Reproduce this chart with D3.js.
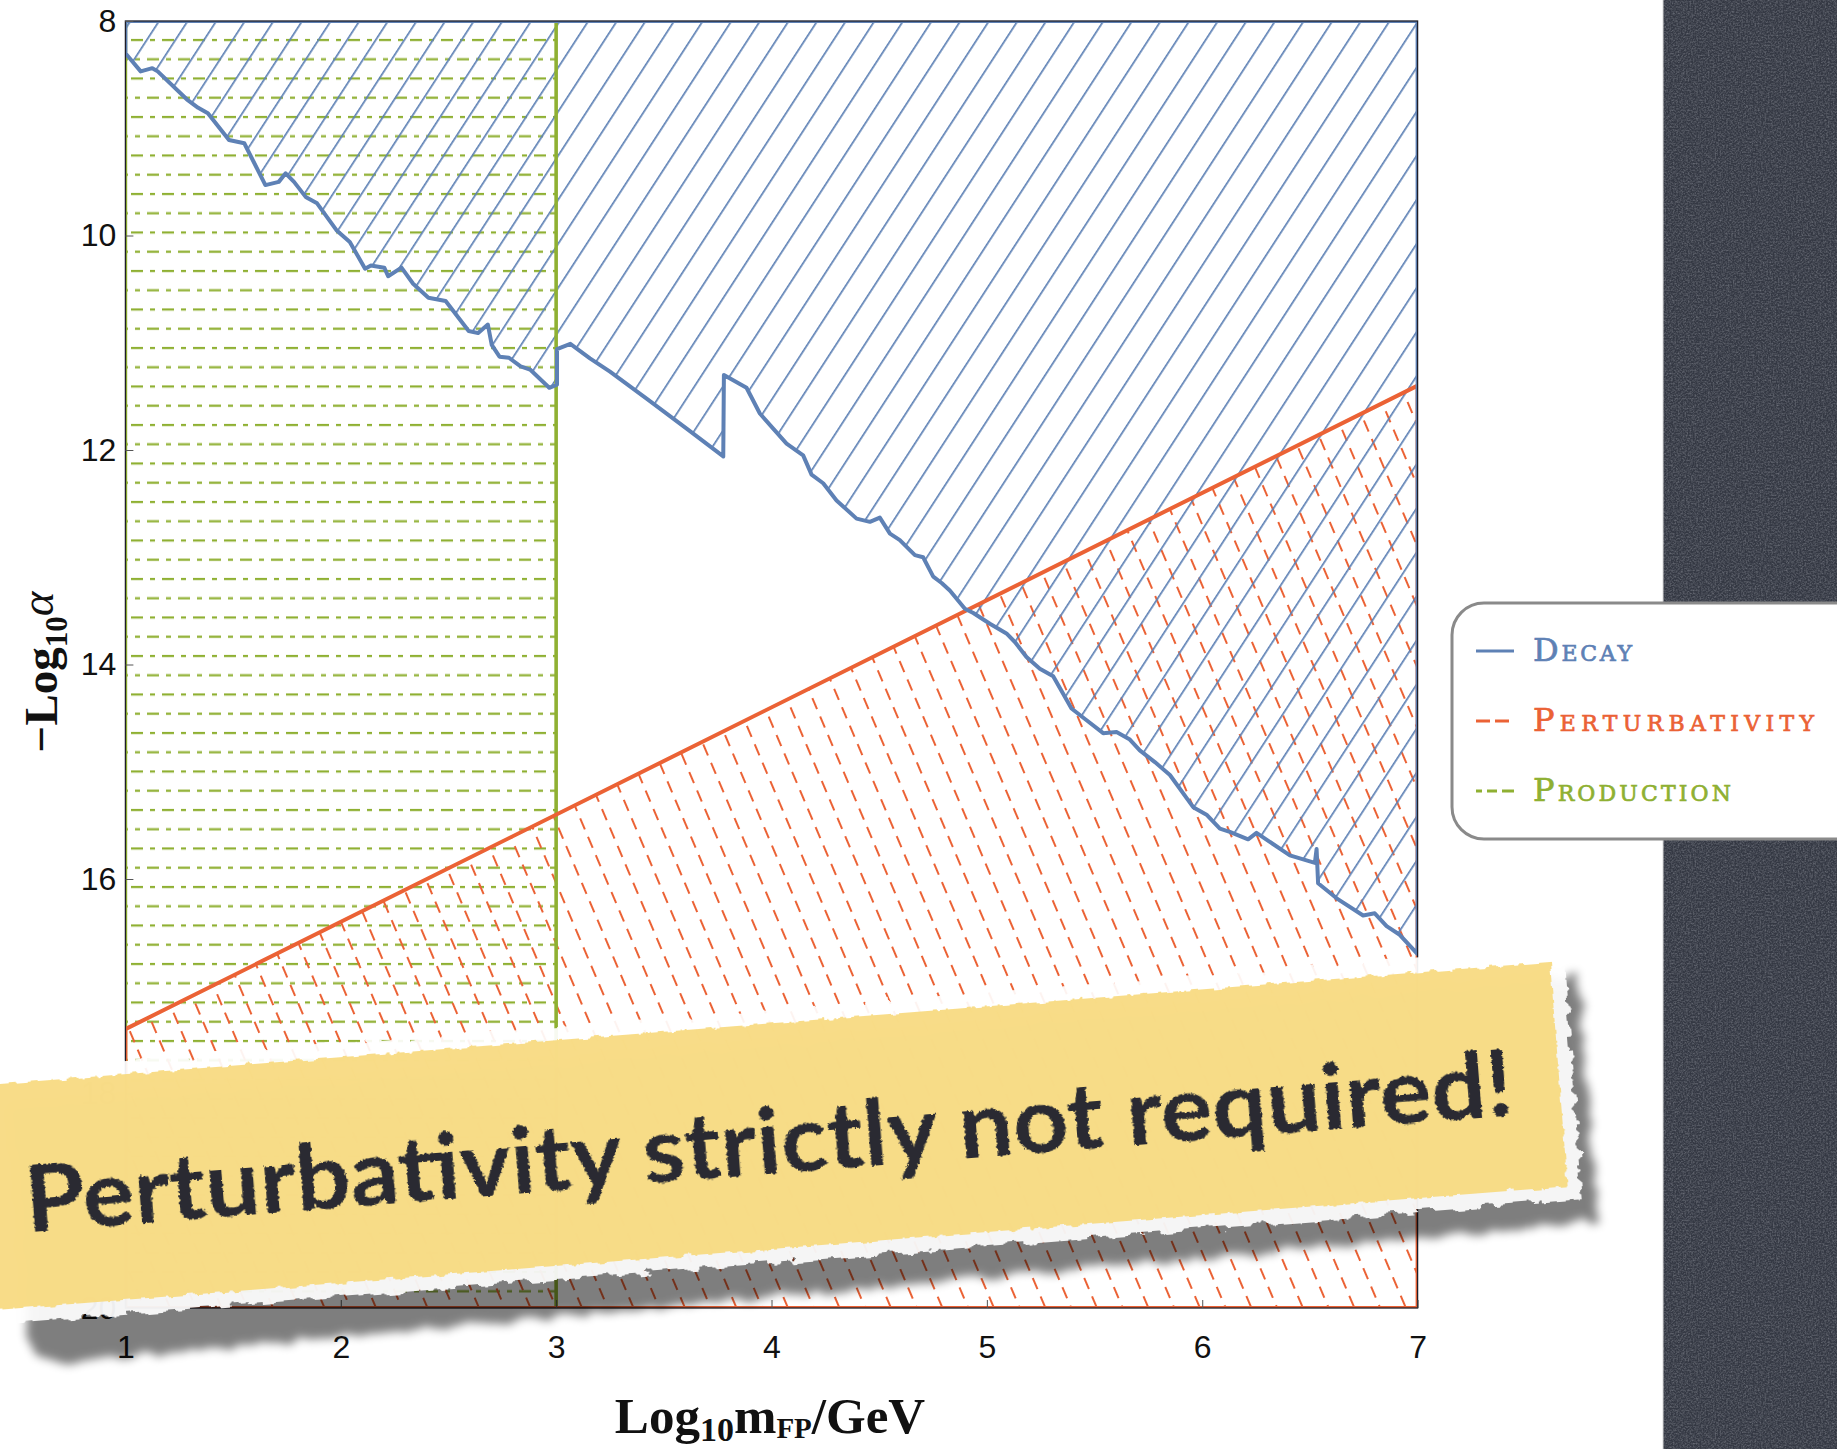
<!DOCTYPE html>
<html>
<head>
<meta charset="utf-8">
<script src="https://cdn.jsdelivr.net/npm/d3@7"></script>
<style>
html, body { margin: 0; padding: 0; background: #fff; }
svg { display: block; }
</style>
</head>
<body>
<svg id="chart" width="1837" height="1449"></svg>
<script>
// ---- data ----
var xTicks = [1, 2, 3, 4, 5, 6, 7];
var yTicks = [8, 10, 12, 14, 16, 18, 20];

// decay bound: -log10(alpha) vs log10(m/GeV)
var decayX = [1.000, 1.071, 1.125, 1.150, 1.285, 1.338, 1.383, 1.481, 1.552, 1.650,
              1.712, 1.744, 1.783, 1.837, 1.890, 1.980, 2.042, 2.113, 2.140, 2.202,
              2.220, 2.282, 2.336, 2.407, 2.487, 2.594, 2.638, 2.683, 2.701, 2.737,
              2.781, 2.835, 2.879, 2.968, 3.004, 3.004, 3.066, 3.157, 3.250, 3.420,
              3.606, 3.776, 3.779, 3.884, 3.946, 4.008, 4.070, 4.147, 4.186, 4.240,
              4.302, 4.395, 4.457, 4.503, 4.550, 4.596, 4.666, 4.704, 4.751, 4.790,
              4.828, 4.898, 4.937, 5.014, 5.091, 5.130, 5.184, 5.246, 5.308, 5.339,
              5.393, 5.463, 5.540, 5.602, 5.664, 5.710, 5.780, 5.850, 5.958, 6.020,
              6.082, 6.128, 6.213, 6.252, 6.407, 6.523, 6.531, 6.538, 6.624, 6.747,
              6.801, 6.856, 6.917, 7.000];
var decayY = [8.30, 8.47, 8.44, 8.47, 8.73, 8.81, 8.86, 9.11, 9.14, 9.53,
              9.50, 9.42, 9.50, 9.64, 9.70, 9.95, 10.06, 10.31, 10.28, 10.30,
              10.38, 10.30, 10.45, 10.58, 10.61, 10.89, 10.91, 10.83, 11.02, 11.13,
              11.14, 11.22, 11.25, 11.42, 11.39, 11.06, 11.01, 11.145, 11.27, 11.52,
              11.80, 12.06, 11.30, 11.42, 11.66, 11.80, 11.94, 12.05, 12.23, 12.31,
              12.47, 12.64, 12.67, 12.63, 12.78, 12.84, 12.98, 13.00, 13.18, 13.24,
              13.31, 13.48, 13.52, 13.62, 13.71, 13.79, 13.93, 14.04, 14.11, 14.22,
              14.41, 14.52, 14.64, 14.63, 14.70, 14.80, 14.91, 15.03, 15.33, 15.40,
              15.53, 15.56, 15.63, 15.57, 15.78, 15.85, 15.72, 16.04, 16.18, 16.34,
              16.32, 16.44, 16.52, 16.70];

// perturbativity bound (straight line)
var pertX = [1, 7];
var pertY = [17.4, 11.4];

// production bound: excluded for log10 m below 3
var prodX = [1, 3];

var legendNames = ['Decay', 'Perturbativity', 'Production'];
var legendColors = ['#5e81b5', '#eb6235', '#8fb032'];
var tapeText = 'Perturbativity strictly not required!';

// ---- setup ----
var svg = d3.select('#chart');
var blue = legendColors[0], orange = legendColors[1], green = legendColors[2];

var x = d3.scaleLinear().domain([xTicks[0], xTicks[xTicks.length - 1]]).range([125.4, 1417.6]);
var y = d3.scaleLinear().domain([yTicks[0], yTicks[yTicks.length - 1]]).range([21, 1308]);
var x0 = x.domain()[0], x1 = x.domain()[1], y0 = y.domain()[0], y1 = y.domain()[1];

var defs = svg.append('defs');

defs.append('clipPath').attr('id', 'plotClip')
    .append('rect')
    .attr('x', x(x0)).attr('y', y(y0))
    .attr('width', x(x1) - x(x0)).attr('height', y(y1) - y(y0));

// hatch patterns
var pBlue = defs.append('pattern').attr('id', 'hatchBlue')
    .attr('patternUnits', 'userSpaceOnUse')
    .attr('width', 24).attr('height', 20)
    .attr('patternTransform', 'rotate(33)');
pBlue.append('rect').attr('x', 0).attr('y', 0).attr('width', 1.7).attr('height', 20).attr('fill', blue);

var pOrange = defs.append('pattern').attr('id', 'hatchOrange')
    .attr('patternUnits', 'userSpaceOnUse')
    .attr('width', 23.7).attr('height', 20)
    .attr('patternTransform', 'rotate(-23)');
pOrange.append('rect').attr('x', 0).attr('y', 0).attr('width', 2).attr('height', 12).attr('fill', orange);

var pGreen = defs.append('pattern').attr('id', 'hatchGreen')
    .attr('patternUnits', 'userSpaceOnUse')
    .attr('x', 131).attr('y', 38.9)
    .attr('width', 31).attr('height', 38.5);
pGreen.append('rect').attr('x', 0).attr('y', 0).attr('width', 12).attr('height', 2.2).attr('fill', green);
pGreen.append('rect').attr('x', 19).attr('y', 0).attr('width', 5).attr('height', 2.2).attr('fill', green);
pGreen.append('rect').attr('x', 16).attr('y', 19.25).attr('width', 12).attr('height', 2.2).attr('fill', green);
pGreen.append('rect').attr('x', 4).attr('y', 19.25).attr('width', 5).attr('height', 2.2).attr('fill', green);

// filters for the tape and the slate panel
var fTorn = defs.append('filter').attr('id', 'torn')
    .attr('x', '-3%').attr('y', '-20%').attr('width', '106%').attr('height', '140%');
fTorn.append('feTurbulence').attr('type', 'fractalNoise').attr('baseFrequency', '0.06 0.09')
    .attr('numOctaves', 3).attr('seed', 4).attr('result', 'n');
fTorn.append('feDisplacementMap').attr('in', 'SourceGraphic').attr('in2', 'n')
    .attr('scale', 16).attr('xChannelSelector', 'R').attr('yChannelSelector', 'G');

var fTornS = defs.append('filter').attr('id', 'tornSmall')
    .attr('x', '-3%').attr('y', '-20%').attr('width', '106%').attr('height', '140%');
fTornS.append('feTurbulence').attr('type', 'fractalNoise').attr('baseFrequency', '0.08 0.12')
    .attr('numOctaves', 3).attr('seed', 9).attr('result', 'n');
fTornS.append('feDisplacementMap').attr('in', 'SourceGraphic').attr('in2', 'n')
    .attr('scale', 7).attr('xChannelSelector', 'R').attr('yChannelSelector', 'G');

var fShadow = defs.append('filter').attr('id', 'tapeShadow')
    .attr('x', '-5%').attr('y', '-30%').attr('width', '110%').attr('height', '160%');
fShadow.append('feTurbulence').attr('type', 'fractalNoise').attr('baseFrequency', '0.05')
    .attr('numOctaves', 2).attr('seed', 2).attr('result', 'n');
fShadow.append('feDisplacementMap').attr('in', 'SourceGraphic').attr('in2', 'n')
    .attr('scale', 14).attr('xChannelSelector', 'R').attr('yChannelSelector', 'G').attr('result', 'd');
fShadow.append('feGaussianBlur').attr('in', 'd').attr('stdDeviation', 5);

var fChalk = defs.append('filter').attr('id', 'chalk')
    .attr('x', '-2%').attr('y', '-20%').attr('width', '104%').attr('height', '140%');
fChalk.append('feTurbulence').attr('type', 'fractalNoise').attr('baseFrequency', 0.35)
    .attr('numOctaves', 2).attr('seed', 7).attr('result', 'n');
fChalk.append('feDisplacementMap').attr('in', 'SourceGraphic').attr('in2', 'n')
    .attr('scale', 4).attr('xChannelSelector', 'R').attr('yChannelSelector', 'G');

var fSlate = defs.append('filter').attr('id', 'slate')
    .attr('x', 0).attr('y', 0).attr('width', '100%').attr('height', '100%');
fSlate.append('feTurbulence').attr('type', 'fractalNoise').attr('baseFrequency', 0.6)
    .attr('numOctaves', 3).attr('seed', 11).attr('result', 'n');
fSlate.append('feColorMatrix').attr('in', 'n').attr('type', 'matrix')
    .attr('values', '0 0 0 0 0.85  0 0 0 0 0.87  0 0 0 0 0.92  0.5 0 0 0 -0.18');

// ---- dark panel on the right ----
svg.append('rect').attr('x', 1663).attr('y', 0).attr('width', 174).attr('height', 1449).attr('fill', '#343843');
svg.append('rect').attr('x', 1663).attr('y', 0).attr('width', 174).attr('height', 1449)
    .attr('fill', '#fff').attr('filter', 'url(#slate)');
svg.append('line').attr('x1', 1663).attr('x2', 1663).attr('y1', 0).attr('y2', 1449)
    .attr('stroke', '#d8d8d8').attr('stroke-width', 1);

// ---- regions ----
var line = d3.line().x(function(d) { return x(d[0]); }).y(function(d) { return y(d[1]); });

var decayPts = decayX.map(function(d, i) { return [d, decayY[i]]; });
var decayArea = decayPts.concat([[x1, y0], [x0, y0]]);
var pertArea = [[pertX[0], pertY[0]], [pertX[1], pertY[1]], [x1, y1], [x0, y1]];
var prodArea = [[prodX[0], y0], [prodX[1], y0], [prodX[1], y1], [prodX[0], y1]];

var plot = svg.append('g').attr('clip-path', 'url(#plotClip)');

plot.append('path').attr('d', line(prodArea) + 'Z').attr('fill', 'url(#hatchGreen)');
plot.append('path').attr('d', line(pertArea) + 'Z').attr('fill', 'url(#hatchOrange)');
plot.append('path').attr('d', line(decayArea) + 'Z').attr('fill', 'url(#hatchBlue)');

plot.append('path').attr('d', line(prodArea) + 'Z').attr('fill', 'none')
    .attr('stroke', green).attr('stroke-width', 3.6);
plot.append('path').attr('d', line(pertArea) + 'Z').attr('fill', 'none')
    .attr('stroke', orange).attr('stroke-width', 4).attr('stroke-linejoin', 'round');
plot.append('path').attr('d', line(decayArea) + 'Z').attr('fill', 'none')
    .attr('stroke', blue).attr('stroke-width', 4).attr('stroke-linejoin', 'round');

// frame
svg.append('rect')
    .attr('x', x(x0)).attr('y', y(y0))
    .attr('width', x(x1) - x(x0)).attr('height', y(y1) - y(y0))
    .attr('fill', 'none').attr('stroke', '#1e1e28').attr('stroke-width', 1.3);

// ---- axes ----
var axisFont = '"Liberation Sans", Arial, sans-serif';

var gx = svg.append('g').attr('transform', 'translate(0,' + y(y1) + ')')
    .call(d3.axisBottom(x).tickValues(xTicks).tickSize(-8).tickSizeOuter(0).tickPadding(27)
        .tickFormat(d3.format('d')));
var gy = svg.append('g').attr('transform', 'translate(' + x(x0) + ',0)')
    .call(d3.axisLeft(y).tickValues(yTicks).tickSize(-8).tickSizeOuter(0).tickPadding(9)
        .tickFormat(d3.format('d')));

[gx, gy].forEach(function(g) {
    g.select('.domain').remove();
    g.selectAll('.tick line').attr('stroke', '#555').attr('stroke-width', 1);
    g.selectAll('.tick text').attr('fill', '#111')
        .style('font-family', axisFont).style('font-size', '32px');
});

// axis titles
var titleFont = '"Liberation Serif", "DejaVu Serif", serif';
var xt = svg.append('text')
    .attr('x', 770).attr('y', 1433)
    .attr('text-anchor', 'middle')
    .style('font-family', titleFont).style('font-weight', 'bold').style('font-size', '51px')
    .attr('fill', '#111');
xt.append('tspan').text('Log');
xt.append('tspan').attr('dy', 8).style('font-size', '34px').text('10');
xt.append('tspan').attr('dy', -8).text('m');
xt.append('tspan').attr('dy', 5).style('font-size', '29px').text('FP');
xt.append('tspan').attr('dy', -5).text('/GeV');

var yt = svg.append('text')
    .attr('transform', 'translate(57,672) rotate(-90)')
    .attr('text-anchor', 'middle')
    .style('font-family', titleFont).style('font-weight', 'bold').style('font-size', '47px')
    .attr('fill', '#111');
yt.append('tspan').text('\u2212Log');
yt.append('tspan').attr('dy', 10).style('font-size', '31px').text('10');
yt.append('tspan').attr('dy', -14).style('font-weight', 'normal').style('font-style', 'italic').text('\u03b1');

// ---- legend ----
var legend = svg.append('g');
legend.append('rect')
    .attr('x', 1452).attr('y', 603).attr('width', 430).attr('height', 236).attr('rx', 32)
    .attr('fill', '#fff').attr('stroke', '#8a8a8a').attr('stroke-width', 3);

var legDash = [null, '14,5', '6,5,10,5,12,20'];
var legWidth = [99, 281, 198];
var legFont = '"DejaVu Serif", "Liberation Serif", serif';
legendNames.forEach(function(name, i) {
    var ly = 651 + i * 70;
    legend.append('line')
        .attr('x1', 1476).attr('x2', 1514).attr('y1', ly).attr('y2', ly)
        .attr('stroke', legendColors[i]).attr('stroke-width', 3)
        .attr('stroke-dasharray', legDash[i]);
    var t = legend.append('text')
        .attr('x', 1533).attr('y', ly + 10)
        .attr('fill', legendColors[i])
        .attr('stroke', legendColors[i]).attr('stroke-width', 0.7)
        .attr('textLength', legWidth[i]).attr('lengthAdjust', 'spacing')
        .style('font-family', legFont);
    t.append('tspan').style('font-size', '32px').text(name.charAt(0));
    t.append('tspan').style('font-size', '22px').text(name.slice(1).toUpperCase());
});

// ---- the tape note ----
var tape = svg.append('g').attr('transform', 'translate(1550,962) rotate(-4.5)');
var shadowPath = 'M-1545,24 L26,16 L28,262 L-1500,282 Q-1545,284 -1548,260 Z';
tape.append('path')
    .attr('d', shadowPath)
    .attr('fill', '#000').attr('opacity', 0.5).attr('filter', 'url(#tapeShadow)');
tape.append('rect')
    .attr('x', -1680).attr('y', -14).attr('width', 1694).attr('height', 253)
    .attr('fill', '#fff').attr('opacity', 0.93).attr('filter', 'url(#torn)');
tape.append('rect')
    .attr('x', -1680).attr('y', 0).attr('width', 1680).attr('height', 225)
    .attr('fill', '#f8da7e').attr('opacity', 0.92).attr('filter', 'url(#tornSmall)');
tape.append('text')
    .attr('x', -1539).attr('y', 150)
    .attr('textLength', 1492).attr('lengthAdjust', 'spacingAndGlyphs')
    .attr('fill', '#2a2c33')
    .attr('filter', 'url(#chalk)')
    .style('font-family', 'Lato, "Open Sans", sans-serif')
    .style('font-weight', 'bold').style('font-size', '92px')
    .text(tapeText);
</script>
</body>
</html>
